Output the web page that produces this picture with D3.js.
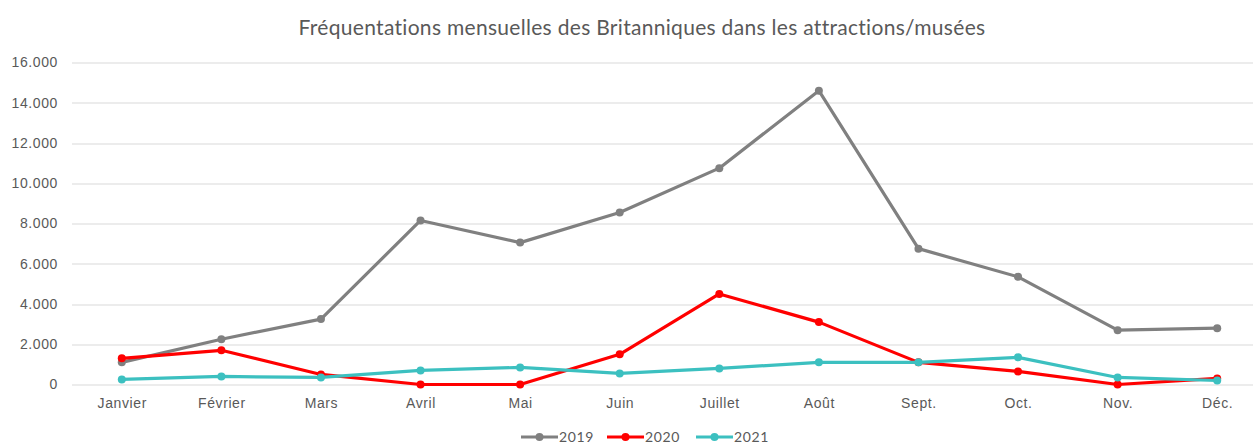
<!DOCTYPE html>
<html>
<head>
<meta charset="utf-8">
<title>Fréquentations mensuelles</title>
<style>
  body { margin: 0; background: #fff; }
  svg { display: block; font-family: Lato, "Open Sans", sans-serif; }
</style>
</head>
<body>
<svg width="1253" height="444"></svg>
<script src="https://d3js.org/d3.v7.min.js"></script>
<script>

var months = ["Janvier", "Février", "Mars", "Avril", "Mai", "Juin", "Juillet", "Août", "Sept.", "Oct.", "Nov.", "Déc."];
var years = ["2019", "2020", "2021"];
var v2019 = [1100, 2250, 3250, 8150, 7050, 8550, 10750, 14600, 6750, 5350, 2700, 2800];
var v2020 = [1300, 1700, 500, 0, 0, 1500, 4500, 3100, 1100, 650, 0, 300];
var v2021 = [250, 400, 350, 700, 850, 550, 800, 1100, 1100, 1350, 350, 200];
var yTicks = [0, 2000, 4000, 6000, 8000, 10000, 12000, 14000, 16000];
var colors = ["#808080", "#ff0000", "#3cc0c0"];

var series = [v2019, v2020, v2021].map(function (vals, i) {
    return { key: years[i], color: colors[i], values: vals.map(function (v, j) { return { m: months[j], v: v }; }) };
});

var svg = d3.select("svg"),
    margin = { top: 62.5, right: 0, bottom: 59.5, left: 72 },
    width = 1195,
    height = +svg.attr("height") - margin.top - margin.bottom;

var locale = d3.formatLocale({ decimal: ",", thousands: ".", grouping: [3], currency: ["", " €"] });
var fmt = locale.format(",d");

var x = d3.scalePoint().domain(months).range([0, width]).padding(0.5),
    y = d3.scaleLinear().domain([0, 16000]).range([height, 0]);

var g = svg.append("g")
    .attr("transform", "translate(" + margin.left + "," + margin.top + ")");

// grid
g.append("g")
    .selectAll("line")
    .data(yTicks)
    .enter().append("line")
    .attr("x1", 0)
    .attr("x2", width)
    .attr("y1", function (d) { return Math.round(y(d)) + 0.5; })
    .attr("y2", function (d) { return Math.round(y(d)) + 0.5; })
    .style("stroke", "#d9d9d9")
    .style("stroke-width", 1.2);

// y axis labels
var yAxis = g.append("g")
    .call(d3.axisLeft(y).tickValues(yTicks).tickFormat(fmt).tickSize(0).tickPadding(14));
yAxis.select(".domain").remove();
yAxis.selectAll("text")
    .style("font-size", "14px")
    .style("letter-spacing", "0.6px")
    .style("fill", "#595959");

// x axis labels
var xAxis = g.append("g")
    .attr("transform", "translate(0," + height + ")")
    .call(d3.axisBottom(x).tickSize(0).tickPadding(14));
xAxis.select(".domain").remove();
xAxis.selectAll("text")
    .style("font-size", "14px")
    .style("letter-spacing", "0.6px")
    .style("fill", "#595959");

var line = d3.line()
    .x(function (d) { return x(d.m); })
    .y(function (d) { return y(d.v); });

var s = g.selectAll(".serie")
    .data(series)
    .enter().append("g")
    .attr("class", "serie");

s.append("path")
    .attr("d", function (d) { return line(d.values); })
    .style("fill", "none")
    .style("stroke", function (d) { return d.color; })
    .style("stroke-width", 3.2)
    .style("stroke-linejoin", "round");

s.selectAll("circle")
    .data(function (d) { return d.values.map(function (p) { return { m: p.m, v: p.v, c: d.color }; }); })
    .enter().append("circle")
    .attr("cx", function (d) { return x(d.m); })
    .attr("cy", function (d) { return y(d.v); })
    .attr("r", 4)
    .style("fill", function (d) { return d.c; });

// title
svg.append("text")
    .attr("x", 642)
    .attr("y", 35)
    .attr("text-anchor", "middle")
    .style("font-size", "21px")
    .style("letter-spacing", "0.3px")
    .style("fill", "#595959")
    .text("Fréquentations mensuelles des Britanniques dans les attractions/musées");

// legend
var legend = svg.append("g").attr("transform", "translate(521,437)");
var item = legend.selectAll("g")
    .data(series)
    .enter().append("g")
    .attr("transform", function (d, i) { return "translate(" + [0, 86, 175][i] + ",0)"; });
item.append("line")
    .attr("x1", 0).attr("x2", 37)
    .style("stroke", function (d) { return d.color; })
    .style("stroke-width", 3.2);
item.append("circle")
    .attr("cx", 18.5).attr("r", 4)
    .style("fill", function (d) { return d.color; });
item.append("text")
    .attr("x", 38)
    .attr("dy", "0.35em")
    .style("font-size", "14px")
    .style("letter-spacing", "0.6px")
    .style("fill", "#595959")
    .text(function (d) { return d.key; });

</script>
</body>
</html>
